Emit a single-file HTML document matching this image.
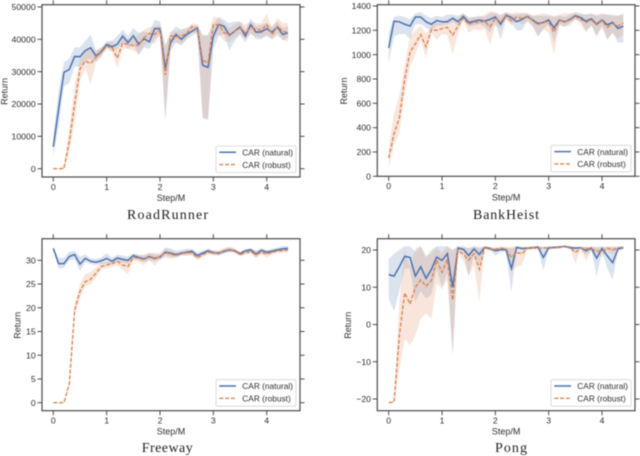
<!DOCTYPE html>
<html lang="en">
<head>
<meta charset="utf-8">
<title>CAR natural and robust return curves</title>
<style>
html,body{margin:0;padding:0;background:#fff;width:640px;height:456px;overflow:hidden}
svg{display:block;filter:blur(0.45px)}
text{font-family:"Liberation Sans",Arial,sans-serif;fill:#2e2e2e}
.title{font-family:"Liberation Serif",serif;fill:#222}
</style>
</head>
<body>
<svg id="figure" width="640" height="456" viewBox="0 0 640 456" xmlns="http://www.w3.org/2000/svg"></svg>
<script>
const steps = [0,0.1,0.2,0.3,0.4,0.5,0.6,0.7,0.8,0.9,1,1.1,1.2,1.3,1.4,1.5,1.6,1.7,1.8,1.9,2,2.1,2.2,2.3,2.4,2.5,2.6,2.7,2.8,2.9,3,3.1,3.2,3.3,3.4,3.5,3.6,3.7,3.8,3.9,4,4.1,4.2,4.3,4.4];
const xTickValues = [0,1,2,3,4];
const seriesLabels = ['CAR (natural)','CAR (robust)'];

const roadNatural = [6800,18500,29800,30700,34700,34600,36500,37400,34800,36200,38400,37700,38500,41000,39000,41100,38500,40200,39200,43300,43300,31000,39000,41500,40000,41500,42500,43500,32000,31300,41000,44600,44000,41200,42500,43800,41000,44500,42200,42300,43300,42200,43800,41500,42000];
const roadNaturalLow = [3700,13000,25500,26500,31500,31500,33500,34000,33000,35000,37500,36500,37000,39000,37000,38500,35000,37500,37000,40000,41500,15000,36500,39000,38000,40000,41000,42500,15500,15000,37000,41000,41500,36500,39500,41500,39000,42000,40000,40000,41000,40000,42000,39500,40500];
const roadNaturalHigh = [10000,24000,33000,34000,37500,37500,39500,41500,36500,37500,39500,39500,41000,43000,41000,43500,42000,42500,42000,46000,45500,38000,42000,44000,43000,43500,44000,44500,41000,41500,44500,47000,46000,45000,45500,45500,43000,46500,44000,44500,45000,44000,45500,43500,44000];
const roadRobust = [0,0,0,8500,20000,30800,33300,32500,34500,36000,37800,37500,34200,38800,38500,38000,38200,40500,41800,41500,43000,29000,41000,40800,41000,41800,44000,43000,33500,32700,44500,44500,42000,41500,42500,43500,42000,43500,43200,42800,44600,41500,44000,42500,42000];
const roadRobustLow = [0,0,0,5000,14000,27000,31000,26000,33000,34500,37000,36000,31000,37000,37000,36500,35500,38000,39500,38500,41500,15000,38500,39000,38500,40000,42500,41000,16000,15500,40500,41500,39500,39000,40500,41500,40000,41500,41000,40500,41500,40000,41000,40000,39000];
const roadRobustHigh = [0,0,1000,12500,25500,34000,36000,37500,36500,37500,38500,39500,37500,40500,40000,40000,41500,43000,43800,44000,44500,38000,42500,42500,43000,43500,45000,44500,41500,41000,47000,46500,45000,43500,44500,45500,44500,45500,45000,45000,48000,43500,46500,45000,45000];
const roadTicks = [0,10000,20000,30000,40000,50000];

const bankNatural = [1055,1275,1270,1250,1235,1310,1310,1270,1250,1280,1270,1270,1300,1270,1315,1265,1275,1285,1275,1290,1310,1250,1325,1305,1270,1290,1315,1285,1255,1265,1285,1220,1285,1270,1290,1320,1305,1275,1295,1250,1285,1245,1265,1215,1235];
const bankNaturalLow = [930,1150,1170,1170,1130,1250,1250,1220,1200,1240,1240,1250,1270,1240,1290,1230,1240,1250,1230,1180,1260,1120,1290,1260,1200,1200,1280,1230,1150,1210,1250,1100,1250,1230,1260,1290,1270,1200,1240,1150,1240,1130,1180,1100,1100];
const bankNaturalHigh = [1180,1310,1320,1310,1290,1340,1350,1320,1300,1320,1310,1330,1330,1320,1340,1300,1310,1320,1310,1340,1340,1320,1350,1330,1330,1340,1340,1320,1320,1320,1320,1310,1320,1310,1330,1350,1340,1330,1340,1320,1330,1330,1320,1320,1330];
const bankRobust = [150,350,480,800,1020,1090,1165,1065,1205,1200,1215,1225,1160,1235,1300,1250,1265,1265,1275,1230,1300,1270,1320,1280,1310,1300,1315,1280,1245,1270,1265,1185,1280,1270,1285,1315,1290,1265,1285,1245,1280,1225,1255,1235,1260];
const bankRobustLow = [60,260,350,680,900,1000,1120,970,1180,1120,1170,1160,1000,1170,1280,1180,1210,1200,1210,1080,1240,1220,1290,1240,1280,1250,1270,1240,1150,1210,1180,1000,1240,1230,1240,1290,1250,1180,1240,1160,1220,1120,1180,1130,1170];
const bankRobustHigh = [230,520,660,920,1150,1200,1240,1170,1240,1260,1260,1290,1300,1300,1340,1310,1310,1310,1330,1360,1350,1330,1350,1340,1350,1340,1340,1320,1330,1340,1330,1320,1330,1340,1340,1340,1330,1330,1330,1330,1340,1330,1330,1320,1340];
const bankTicks = [0,200,400,600,800,1000,1200,1400];

const freeNatural = [32.5,29.3,29.3,30.8,31.2,29.2,30.4,29.8,29.6,29.9,30.4,29.8,30.5,30.2,30,31,30.6,30.3,30.8,30.4,30.7,31.7,31.5,31.2,31.5,31.7,31.9,31,31.5,32,31.6,31.5,31.9,32.2,32,31.4,32,32.2,31.3,32.1,31.7,31.9,32.2,32.4,32.5];
const freeNaturalLow = [32.2,28.2,28.4,30,30.2,27.7,29.6,29.2,29,29.2,29.3,29.2,29.8,29.5,29.3,30.5,30,29.6,30,29.8,30.2,31,30.7,30.6,31,31,31.2,30.4,31,31.5,31.1,31,31.4,31.8,31.6,31,31.6,31.8,30.6,31.6,31.2,31.4,31.8,32,32];
const freeNaturalHigh = [32.8,30.5,30.5,31.8,32,30.8,31.2,30.4,30.3,30.6,31.5,30.5,31.2,31,30.8,31.5,31.2,31,31.6,31.2,31.2,32.7,32.5,32,32.2,32.4,32.4,31.7,32,32.5,32.1,32,32.4,32.7,32.4,31.8,32.4,32.6,32,32.6,32.2,32.4,32.7,33,33];
const freeRobust = [0,0,0,4,19.5,23.5,25.5,26,27.3,28.7,29,29.3,29.8,29,28.7,30.6,30.4,30.2,30.7,30.3,30.8,31.6,31.3,31,31.4,31.6,31.6,30.5,31.2,31.7,31.6,31.5,32,32.3,32,31.2,31.6,31.8,31.2,31.7,31.3,31.7,32,32,32.2];
const freeRobustLow = [0,0,0,3.5,18.5,22,24.5,25,26.3,28,28.4,28.6,29,28,27,30,29.6,29,30,28.9,30,30.6,30.3,30.5,31,31,31,30,30.6,31.2,31.2,31,31.5,31.8,31.6,30.8,31.2,31.4,30.4,31.2,30.6,31.2,31.6,31.6,31.7];
const freeRobustHigh = [0,0,0,4.5,20.5,25,27,27.5,28.5,29.5,29.6,30,30.5,30,30,31.3,31,31.2,31.5,31.6,31.5,32.5,32.2,31.6,31.9,32.2,32.2,31.2,31.8,32.2,32,32,32.6,32.9,32.5,31.7,32.1,32.4,32,32.3,32,32.3,32.5,32.5,32.8];
const freeTicks = [0,5,10,15,20,25,30];

const pongNatural = [13.4,13,15.5,18.3,18,13,15.5,12.4,14.8,18.1,17.2,19,10,20.5,20.2,18.5,20.3,18.8,20.7,20.4,19.8,20.1,20.1,15,20.7,20.4,20.5,20.6,20.8,18,20.6,20.7,20.8,21,20.6,20.5,20.6,19.8,20.5,17.8,20.4,18.4,16.6,20.3,20.6];
const pongNaturalLow = [7,3.5,9,15,15,6,9,7,8,15,10,14,-8,20,19.5,13,19,16,20.3,20,18.5,19.5,19.5,8.5,20.3,20,20,20.2,20.4,14.5,20.2,20.3,20.4,20.6,20.2,20.2,20.2,18.5,20,12.8,19.8,15,12,19.8,20.2];
const pongNaturalHigh = [17.5,19,20,21,21,19.5,21,18,20,21,21,21,20,21,21,20.5,21,20.7,21,20.8,20.5,20.6,20.6,20.5,21,20.8,20.8,21,21,20.8,21,21,21,21.2,21,20.8,20.9,20.8,20.9,20.9,20.9,20.8,20.8,20.8,21];
const pongRobust = [-21,-20.8,-3,8.5,5.5,10,12,10.3,11.8,17.3,14,17.5,6.5,20,18.8,17.3,19,14.8,20.6,20.2,20.2,20.5,20.3,18,19.3,19,20.5,20.6,20.4,20.6,20.5,20.6,20.7,21,20.8,19.3,20.5,20.3,20.3,19.8,19.5,20.5,20,20.6,20.7];
const pongRobustLow = [-21,-21,-12,-4,-5.5,-3,1.5,3,1.5,11,9.5,12,-8.5,19,17,13,16,6,20.2,19.8,19.7,20,19.8,14.5,15.5,16,20,20.2,20,20.3,20.2,20.3,20.4,20.8,20.5,16.3,20.2,17,19.6,19,18,20,18.8,20.3,20.4];
const pongRobustHigh = [-21,-20.5,6,20,15.5,20.5,21,18.5,19,20.7,19,21,20,21,20.7,20.5,21,20.5,21,20.7,20.7,21,20.8,20.8,21,20.5,20.8,21,20.8,20.9,20.8,20.9,21,21.2,21,20.9,20.8,20.9,20.8,20.6,20.8,20.9,21,20.9,21];
const pongTicks = [-20,-10,0,10,20];

const NS = 'http://www.w3.org/2000/svg';
const figure = document.getElementById('figure');
const BLUE = '#4C72B0', ORANGE = '#DD8452', SPINE = '#4a4a4a';

function node(parent, tag, attrs, txt) {
  const el = document.createElementNS(NS, tag);
  for (const k in attrs) el.setAttribute(k, attrs[k]);
  if (txt !== undefined) el.textContent = txt;
  parent.appendChild(el);
  return el;
}
function fmt(v) { return v < 0 ? '\u2212' + Math.abs(v) : String(v); }

function drawPanel(p) {
  const g = node(figure, 'g', {});
  
  
  const xScale = v => p.x0 + (v - 0) * (p.x4 - p.x0) / 4;
  const yScale = v => p.yA + (v - p.vA) * (p.yB - p.yA) / (p.vB - p.vA);

  const clipId = 'clip-' + p.key;
  const defs = node(g, 'defs', {});
  const cp = node(defs, 'clipPath', {id: clipId});
  node(cp, 'rect', {x: p.left, y: p.top, width: p.right - p.left, height: p.bottom - p.top});

  const plot = node(g, 'g', {'clip-path': 'url(#' + clipId + ')'});
  
  

  const bandPath = (lo, hi) => {
    const top = steps.map((s, i) => xScale(s).toFixed(2) + ',' + yScale(hi[i]).toFixed(2));
    const bot = steps.map((s, i) => xScale(s).toFixed(2) + ',' + yScale(lo[i]).toFixed(2)).reverse();
    return 'M' + top.concat(bot).join('L') + 'Z';
  };
  const linePts = vals => steps.map((s, i) => xScale(s).toFixed(2) + ',' + yScale(vals[i]).toFixed(2)).join(' ');

  const bandN = node(plot, 'path', {d: bandPath(p.nLow, p.nHigh), fill: BLUE, 'fill-opacity': 0.2});
  
  
  const bandR = node(plot, 'path', {d: bandPath(p.rLow, p.rHigh), fill: ORANGE, 'fill-opacity': 0.2});
  
  
  const lineN = node(plot, 'polyline', {points: linePts(p.n), fill: 'none', stroke: BLUE, 'stroke-width': 1.5});
  
  
  const lineR = node(plot, 'polyline', {points: linePts(p.r), fill: 'none', stroke: ORANGE, 'stroke-width': 1.4, 'stroke-dasharray': '4 1.8'});
  
  

  const frame = node(g, 'rect', {x: p.left, y: p.top, width: p.right - p.left, height: p.bottom - p.top, fill: 'none', stroke: SPINE, 'stroke-width': 1.2});
  
  

  const tl = 4.5;
  xTickValues.forEach(v => {
    const x = xScale(v);
    node(g, 'line', {x1: x, x2: x, y1: p.bottom, y2: p.bottom + tl, stroke: SPINE, 'stroke-width': 1});
    node(g, 'line', {x1: x, x2: x, y1: p.top, y2: p.top - tl, stroke: SPINE, 'stroke-width': 1});
    const t = node(g, 'text', {x: x, y: p.bottom + 12.8, 'text-anchor': 'middle', 'font-size': 8.7}, fmt(v));
    
    
  });
  p.ticks.forEach(v => {
    const y = yScale(v);
    node(g, 'line', {x1: p.left, x2: p.left - tl, y1: y, y2: y, stroke: SPINE, 'stroke-width': 1});
    node(g, 'line', {x1: p.right, x2: p.right + tl, y1: y, y2: y, stroke: SPINE, 'stroke-width': 1});
    const t = node(g, 'text', {x: p.left - 6.3, y: y + 3.1, 'text-anchor': 'end', 'font-size': 8.7}, fmt(v));
    
    
  });

  const xl = node(g, 'text', {x: (p.left + p.right) / 2, y: p.bottom + 24, 'text-anchor': 'middle', 'font-size': 9}, 'Step/M');
  
  
  const yMid = (p.top + p.bottom) / 2 + 0.5;
  const yl = node(g, 'text', {x: p.retX, y: yMid, 'text-anchor': 'middle', 'font-size': 9, transform: 'rotate(-90 ' + p.retX + ' ' + yMid + ')'}, 'Return');
  
  

  const ti = node(g, 'text', {class: 'title', x: p.titleX, y: p.titleY, 'text-anchor': 'middle', 'font-size': 14, textLength: p.titleW, lengthAdjust: 'spacing'}, p.title);
  
  

  const leg = node(g, 'g', {});
  
  
  const lx = p.right - 84, ly = p.bottom - 31;
  node(leg, 'rect', {x: lx, y: ly, width: 80, height: 26.5, rx: 1.5, fill: '#fff', 'fill-opacity': 0.85, stroke: '#d4d4d4', 'stroke-width': 0.8});
  seriesLabels.forEach((label, i) => {
    const ey = ly + 6.3 + i * 12.3;
    const line = node(leg, 'line', {x1: lx + 3.3, x2: lx + 20, y1: ey, y2: ey, stroke: i ? ORANGE : BLUE, 'stroke-width': i ? 1.4 : 1.5});
    if (i) line.setAttribute('stroke-dasharray', '4 1.8');
    const t = node(leg, 'text', {x: lx + 26.3, y: ey + 3.2, 'font-size': 8.3}, label);
    
    
  });
}

drawPanel({key:'roadrunner', title:'RoadRunner', left:42, right:300, top:4.7, bottom:177, x0:53.3, x4:266.7, vA:0, yA:168.7, vB:40000, yB:39.3, ticks:roadTicks, retX:7.5, titleX:167.5, titleY:219, titleW:81,
  n:roadNatural, nLow:roadNaturalLow, nHigh:roadNaturalHigh, r:roadRobust, rLow:roadRobustLow, rHigh:roadRobustHigh});
drawPanel({key:'bankheist', title:'BankHeist', left:377.3, right:635, top:4.7, bottom:176.3, x0:388.7, x4:602, vA:0, yA:176.3, vB:1400, yB:6, ticks:bankTicks, retX:347, titleX:506, titleY:219, titleW:66,
  n:bankNatural, nLow:bankNaturalLow, nHigh:bankNaturalHigh, r:bankRobust, rLow:bankRobustLow, rHigh:bankRobustHigh});
drawPanel({key:'freeway', title:'Freeway', left:42, right:300, top:238.7, bottom:410.7, x0:53.3, x4:266.7, vA:0, yA:402.7, vB:30, yB:260.3, ticks:freeTicks, retX:20.5, titleX:167.2, titleY:452, titleW:51,
  n:freeNatural, nLow:freeNaturalLow, nHigh:freeNaturalHigh, r:freeRobust, rLow:freeRobustLow, rHigh:freeRobustHigh});
drawPanel({key:'pong', title:'Pong', left:377.3, right:635, top:238.7, bottom:410.7, x0:388.7, x4:602, vA:-20, yA:399, vB:20, yB:250, ticks:pongTicks, retX:351, titleX:511, titleY:452, titleW:32,
  n:pongNatural, nLow:pongNaturalLow, nHigh:pongNaturalHigh, r:pongRobust, rLow:pongRobustLow, rHigh:pongRobustHigh});
</script>
</body>
</html>
